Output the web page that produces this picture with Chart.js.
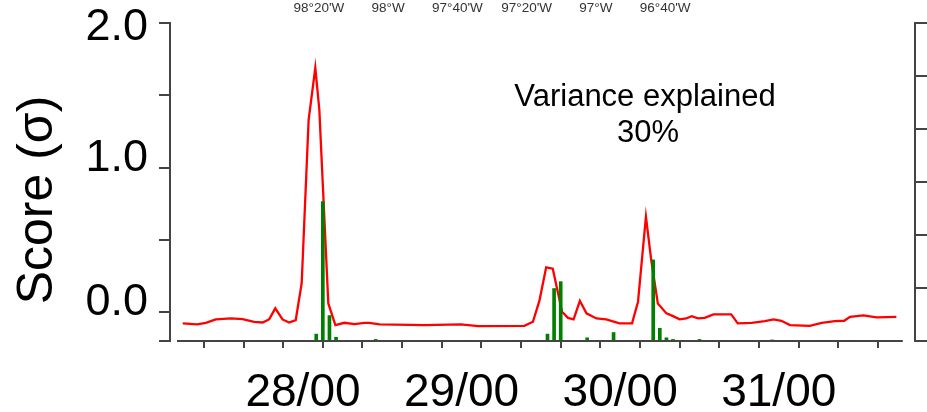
<!DOCTYPE html>
<html><head><meta charset="utf-8">
<script src="https://cdn.jsdelivr.net/npm/chart.js@4.4.1/dist/chart.umd.min.js"></script>
<style>html,body{margin:0;padding:0;background:#fff;} #wrap{width:927px;height:412px;position:relative;}</style>
</head><body><div id="wrap"><canvas id="c" width="927" height="412"></canvas></div>
<script>
// ---- data (hours relative to 28/00) ----
const lineHours = [-18.2,-16.0,-14.7,-13.2,-10.9,-9.15,-7.4,-6.1,-5.1,-4.2,-3.1,-2.1,-1.1,-0.2,0.85,1.86,2.47,3.83,4.9,6.26,7.8,9.3,10.0,11.6,18.4,23.9,26.5,33.5,34.8,35.8,36.8,37.8,39.2,40.1,40.95,41.9,42.9,44.4,45.9,47.9,49.8,50.7,51.9,52.7,53.7,55.0,56.0,57.0,58.0,58.8,59.8,60.8,62.1,64.8,65.8,67.9,69.9,71.2,72.4,73.7,76.7,78.5,80.5,81.9,82.8,84.8,86.8,89.8];
const lineScores = [-0.078,-0.085,-0.074,-0.051,-0.044,-0.049,-0.067,-0.072,-0.049,0.026,-0.051,-0.072,-0.055,0.20,1.33,1.69,1.40,0.06,-0.09,-0.074,-0.083,-0.074,-0.074,-0.085,-0.090,-0.085,-0.097,-0.095,-0.067,0.083,0.31,0.30,0.002,-0.04,-0.05,0.078,-0.009,-0.044,-0.051,-0.078,-0.078,0.072,0.66,0.36,0.06,-0.009,-0.028,-0.05,-0.044,-0.028,-0.044,-0.04,-0.016,-0.016,-0.078,-0.074,-0.063,-0.051,-0.06,-0.09,-0.095,-0.074,-0.063,-0.06,-0.033,-0.023,-0.037,-0.033];
const barHours = [2,3,4,5,11,37,38,39,43,47,53,54,55,56,60,71];
const barValues = [0.13,2.63,0.48,0.07,0.03,0.13,0.99,1.12,0.06,0.16,1.53,0.24,0.06,0.03,0.03,0.02];
const xTickHours = [-12,-6,0,6,12,18,24,30,36,42,48,54,60,66,72,78,84,90];
const dayTickHours = [0,24,48,72];
const dayTickLabels = ['28/00','29/00','30/00','31/00'];
const lonTickValues = [-98-1/3,-98,-97-2/3,-97-1/3,-97,-96-2/3];
const lonTickLabels = ["98°20'W","98°W","97°40'W","97°20'W","97°W","96°40'W"];
const scoreTickValues = [-0.2,0,0.5,1,1.5,2];
const scoreTickValuesLabeled = [0,1,2];
const scoreTickLabels = ['0.0','1.0','2.0'];
const rightTickValues = [0,1,2,3,4,5,6];
const yTitle = 'Score (σ)';
const annotationLines = ['Variance explained','30%'];

const FONT = '"Liberation Sans", Arial, sans-serif';

const overlay = {
  id:'overlay',
  afterDraw(chart){
    const ctx = chart.ctx, x = chart.scales.x, ca = chart.chartArea;
    ctx.save();
    ctx.strokeStyle = '#444'; ctx.lineWidth = 2;
    ctx.beginPath();
    ctx.moveTo(x.getPixelForValue(-19.07), ca.bottom);
    ctx.lineTo(x.getPixelForValue(90.77), ca.bottom);
    ctx.stroke();
    ctx.fillStyle = '#000';
    ctx.font = '50px ' + FONT;
    ctx.textAlign = 'center'; ctx.textBaseline = 'middle';
    ctx.translate(38, 200); ctx.rotate(-Math.PI/2);
    ctx.fillText(yTitle, 0, 0);
    ctx.restore();
    ctx.save();
    ctx.fillStyle = '#000';
    ctx.font = '31px ' + FONT;
    ctx.textAlign = 'center'; ctx.textBaseline = 'middle';
    ctx.fillText(annotationLines[0], 645, 97);
    ctx.fillText(annotationLines[1], 648, 133);
    ctx.restore();
  }
};

new Chart(document.getElementById('c'), {
  type:'bar',
  data:{
    datasets:[
      {type:'bar', label:'bars', data: barHours.map((h,i)=>({x:h,y:barValues[i]})), xAxisID:'x', yAxisID:'y2',
       backgroundColor:'#008000', borderWidth:0, barThickness:3, order:0},
      {type:'line', label:'score', data: lineHours.map((h,i)=>({x:h,y:lineScores[i]})), xAxisID:'x', yAxisID:'y',
       borderColor:'#ff0000', borderWidth:2.3, pointRadius:0, tension:0, fill:false, order:1}
    ]
  },
  options:{
    responsive:false, animation:false, devicePixelRatio:1,
    layout:{padding:0},
    plugins:{legend:{display:false}, tooltip:{enabled:false}},
    scales:{
      x:{type:'linear', position:'bottom', min:-20.13, max:92.62, offset:false,
         afterBuildTicks:s=>{s.ticks = xTickHours.map(v=>({value:v}));},
         afterFit:s=>{s.height = 71;},
         grid:{drawOnChartArea:false, tickLength:7, color:'#444', lineWidth:2},
         border:{display:false},
         ticks:{autoSkip:false, maxRotation:0, padding:18, color:'#000', font:{size:46, family:FONT},
                callback:v=>{const i = dayTickHours.indexOf(v); return i>=0 ? dayTickLabels[i] : '';}}},
      xTop:{type:'linear', position:'top', min:-98.751, max:-95.763,
         afterBuildTicks:s=>{s.ticks = lonTickValues.map(v=>({value:v}));},
         afterFit:s=>{s.height = 23;},
         grid:{display:false}, border:{display:false},
         ticks:{autoSkip:false, maxRotation:0, padding:-1, color:'#333', font:{size:13.5, family:FONT},
                callback:(v,i)=>lonTickLabels[i]}},
      y:{type:'linear', position:'left', min:-0.2, max:2,
         afterBuildTicks:s=>{s.ticks = scoreTickValues.map(v=>({value:v}));},
         afterFit:s=>{s.width = 170;},
         grid:{drawOnChartArea:false, tickLength:11, color:'#444', lineWidth:2},
         border:{display:true, color:'#444', width:2},
         ticks:{padding:11, color:'#000', font:{size:45, family:FONT, lineHeight:0.2},
                callback:v=>{const i = scoreTickValuesLabeled.indexOf(v); if(i<0) return ''; return i<2 ? [scoreTickLabels[i],'',''] : ['',scoreTickLabels[i]];}}},
      y2:{type:'linear', position:'right', min:0, max:6,
         afterBuildTicks:s=>{s.ticks = rightTickValues.map(v=>({value:v}));},
         afterFit:s=>{s.width = 12;},
         grid:{drawOnChartArea:false, tickLength:12, color:'#444', lineWidth:2},
         border:{display:true, color:'#444', width:2},
         ticks:{padding:0, callback:()=>''}}
    }
  },
  plugins:[overlay]
});
</script>
</body></html>
